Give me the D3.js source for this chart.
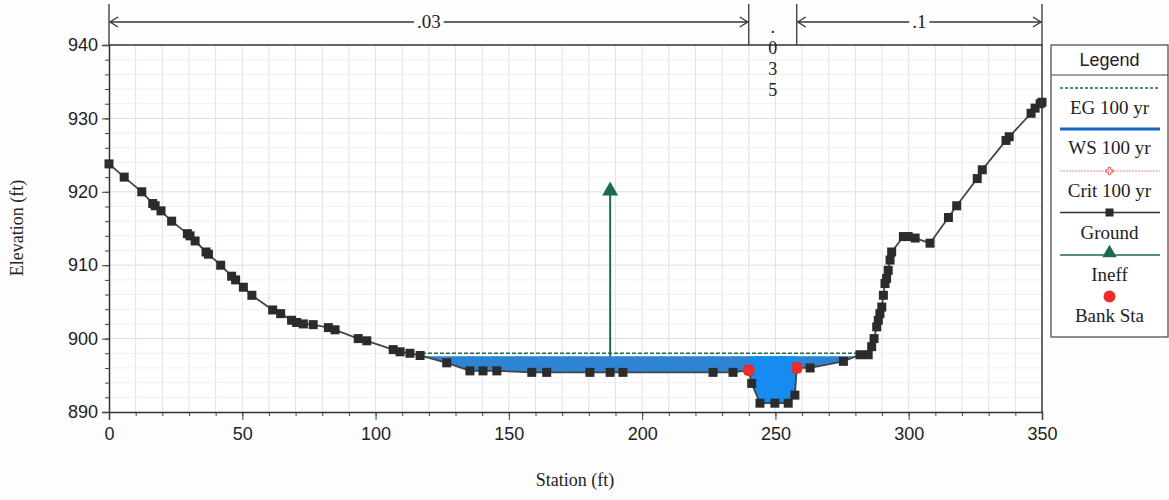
<!DOCTYPE html>
<html>
<head>
<meta charset="utf-8">
<script src="https://cdn.jsdelivr.net/npm/d3@7"></script>
<style>
  html, body { margin: 0; padding: 0; background: #fdfdfd; }
  svg { display: block; }
  .tick text { font-family: "Liberation Sans", Arial, sans-serif; font-size: 18px; fill: #222; }
</style>
</head>
<body>
<svg id="chart" width="1169" height="500"></svg>
<script>
// Cross-section ground survey: station (ft) and elevation (ft)
const groundStation = [0, 5.7, 12.3, 16.4, 17.3, 19.5, 23.5, 29.4, 30.4, 32.3, 36.4, 37.3, 41.9, 46.0, 47.5, 50.4,
  53.6, 61.4, 64.4, 68.5, 70.4, 72.9, 76.6, 82.3, 84.8, 93.5, 96.7, 106.6, 109.2, 112.9, 116.7, 126.7,
  135.4, 140.3, 145.5, 158.6, 164.2, 180.4, 188.0, 192.8, 226.6, 234.1, 240.0, 241.1, 244.2, 249.8, 254.8,
  257.3, 258.0, 263.0, 275.5, 281.7, 284.8, 286.1, 287.0, 288.0, 288.6, 289.2, 289.9, 290.5, 291.1, 291.7,
  292.3, 293.0, 293.6, 298.0, 299.8, 302.4, 308.0, 314.9, 318.0, 325.7, 327.6, 336.5, 337.7, 345.9, 347.4,
  349.3, 350];
const groundElev = [923.8, 922.0, 920.0, 918.4, 918.1, 917.4, 916.0, 914.3, 914.0, 913.3, 911.8, 911.5, 910.0, 908.5, 908.0, 907.0,
  905.9, 903.9, 903.4, 902.5, 902.2, 902.0, 901.9, 901.5, 901.2, 900.0, 899.7, 898.5, 898.2, 898.0, 897.7, 896.7,
  895.6, 895.6, 895.6, 895.4, 895.4, 895.4, 895.4, 895.4, 895.4, 895.4, 895.7, 893.9, 891.2, 891.2, 891.2,
  892.3, 896.0, 896.0, 896.9, 897.8, 897.8, 898.9, 900.0, 901.6, 902.5, 903.4, 904.3, 905.9, 907.5, 908.2,
  909.3, 910.7, 911.8, 913.9, 913.9, 913.7, 913.0, 916.5, 918.1, 921.8, 923.0, 927.0, 927.5, 930.7, 931.4,
  932.0, 932.2];

// Water profile results (100 yr)
const wsElev = 897.6;      // water surface
const egElev = 898.0;      // energy grade
// Bank stations
const bankStations = [240.0, 258.0];
const bankElevs = [895.7, 896.0];
// Ineffective flow area marker
const ineffStation = 188.0;
const ineffElev = 920.0;
// Manning's n regions
const nBreaks = [0, 240.0, 258.0, 350];
const nLabels = [".03", ".035", ".1"];

// Axis ticks
const xTicks = [0, 50, 100, 150, 200, 250, 300, 350];
const yTicks = [890, 900, 910, 920, 930, 940];

// Legend entries
const legendLabels = ["EG 100 yr", "WS 100 yr", "Crit 100 yr", "Ground", "Ineff", "Bank Sta"];

const svg = d3.select("#chart");
const x = d3.scaleLinear().domain([0, 350]).range([109, 1042]);
const y = d3.scaleLinear().domain([890, 940]).range([412, 45]);

const serif = "'Liberation Serif', 'Times New Roman', serif";
const sans = "'Liberation Sans', Arial, sans-serif";
const groundColor = "#2b2b2b";
const green = "#1c6a52";

// Plot background
svg.append("rect").attr("x", x(0)).attr("y", y(940)).attr("width", x(350) - x(0)).attr("height", y(890) - y(940)).attr("fill", "#fff");

// Grid
const grid = svg.append("g");
grid.selectAll(".gv").data(d3.range(10, 350, 10)).join("line")
  .attr("x1", d => x(d)).attr("x2", d => x(d)).attr("y1", y(940)).attr("y2", y(890))
  .attr("stroke", "#e2e2e2").attr("stroke-width", 1);
grid.selectAll(".gh").data(d3.range(892, 940, 2)).join("line")
  .attr("x1", x(0)).attr("x2", x(350)).attr("y1", d => y(d)).attr("y2", d => y(d))
  .attr("stroke", d => d % 10 === 0 ? "#dedede" : "#efefef").attr("stroke-width", 1);

// Ground profile as point list
const ground = groundStation.map((s, i) => [s, groundElev[i]]);
const groundAt = s => {
  for (let i = 1; i < ground.length; i++) {
    if (s <= ground[i][0]) {
      const [s0, e0] = ground[i - 1], [s1, e1] = ground[i];
      return e0 + (e1 - e0) * (s - s0) / (s1 - s0);
    }
  }
  return ground[ground.length - 1][1];
};

// Ineffective flow marker (drawn below the water)
svg.append("line")
  .attr("x1", x(ineffStation)).attr("x2", x(ineffStation))
  .attr("y1", y(groundAt(ineffStation))).attr("y2", y(ineffElev))
  .attr("stroke", green).attr("stroke-width", 2);
svg.append("path")
  .attr("d", d3.symbol(d3.symbolTriangle, 110)())
  .attr("transform", `translate(${x(ineffStation)},${y(ineffElev) - 1})`)
  .attr("fill", green);

// Wetted polygons below a level: split ground where it crosses the level
function wetPolygons(level) {
  const polys = [];
  let cur = null;
  for (let i = 0; i < ground.length; i++) {
    const [s, e] = ground[i];
    if (i > 0) {
      const [ps, pe] = ground[i - 1];
      if ((pe < level) !== (e < level)) {
        const t = (level - pe) / (e - pe);
        const cs = ps + t * (s - ps);
        if (cur) { cur.push([cs, level]); polys.push(cur); cur = null; }
        else { cur = [[cs, level]]; }
      }
    }
    if (e < level && cur) cur.push([s, e]);
  }
  return polys;
}
const wet = wetPolygons(wsElev);
const line = d3.line().x(d => x(d[0])).y(d => y(d[1]));

// Channel clip (between bank stations)
svg.append("clipPath").attr("id", "chanClip").append("rect")
  .attr("x", x(bankStations[0])).attr("y", 0)
  .attr("width", x(bankStations[1]) - x(bankStations[0])).attr("height", 500);

const water = svg.append("g");
wet.forEach(p => {
  water.append("path").attr("d", line(p) + "Z").attr("fill", "#2d84d2");
  water.append("path").attr("d", line(p) + "Z").attr("fill", "#168cf0").attr("clip-path", "url(#chanClip)");
});

// Energy grade line across the wetted width at EG level
const egPolys = wetPolygons(egElev);
const egL = egPolys[0][0][0];
const egR = egPolys[egPolys.length - 1][egPolys[egPolys.length - 1].length - 1][0];
svg.append("line")
  .attr("x1", x(egL)).attr("x2", x(egR)).attr("y1", y(egElev)).attr("y2", y(egElev))
  .attr("stroke", green).attr("stroke-width", 1.6).attr("stroke-dasharray", "4,2");

// Ground line and survey points
svg.append("path").datum(ground).attr("d", line)
  .attr("fill", "none").attr("stroke", "#444").attr("stroke-width", 1.8);
svg.append("g").selectAll("rect").data(ground).join("rect")
  .attr("x", d => x(d[0]) - 4.5).attr("y", d => y(d[1]) - 4.5)
  .attr("width", 9).attr("height", 9).attr("fill", groundColor);

// Bank stations
svg.append("g").selectAll("circle").data(bankStations).join("circle")
  .attr("cx", d => x(d)).attr("cy", (d, i) => y(bankElevs[i]))
  .attr("r", 6).attr("fill", "#ee2c2c");

// Frame (top and right edges)
svg.append("path")
  .attr("d", `M${x(0)},${y(940)}H${x(350)}V${y(890)}`)
  .attr("fill", "none").attr("stroke", "#333").attr("stroke-width", 1.5);

// Axes
svg.append("g").attr("transform", `translate(0,${y(890)})`)
  .call(d3.axisBottom(x).tickValues(xTicks).tickSize(8).tickPadding(7));
svg.append("g").attr("transform", `translate(0,${y(890)})`)
  .call(d3.axisBottom(x).tickValues(d3.range(0, 351, 10)).tickSize(4).tickFormat(""))
  .call(g => g.select(".domain").remove());
svg.append("g").attr("transform", `translate(${x(0)},0)`)
  .call(d3.axisLeft(y).tickValues(yTicks).tickSize(7).tickPadding(4));
svg.append("g").attr("transform", `translate(${x(0)},0)`)
  .call(d3.axisLeft(y).tickValues(d3.range(890, 941, 2)).tickSize(4).tickFormat(""))
  .call(g => g.select(".domain").remove());
svg.selectAll(".domain").attr("stroke", "#333").attr("stroke-width", 1.5);
svg.selectAll(".tick line").attr("stroke", "#444");

// Axis titles
svg.append("text").attr("x", 575).attr("y", 486).attr("text-anchor", "middle")
  .attr("font-family", serif).attr("font-size", 18).attr("fill", "#222").text("Station (ft)");
svg.append("text").attr("transform", "translate(23,228) rotate(-90)").attr("text-anchor", "middle")
  .attr("font-family", serif).attr("font-size", 18).attr("fill", "#222").text("Elevation (ft)");

// Manning's n regions along the top
const nG = svg.append("g").attr("stroke", "#333").attr("stroke-width", 1.3);
nBreaks.forEach(b => {
  nG.append("line").attr("x1", x(b)).attr("x2", x(b)).attr("y1", 4).attr("y2", y(940));
});
nLabels.forEach((lab, i) => {
  const a = x(nBreaks[i]), b = x(nBreaks[i + 1]);
  const mid = (a + b) / 2;
  if (b - a > 80) {
    const ay = 22;
    nG.append("line").attr("x1", a + 1).attr("x2", b - 1).attr("y1", ay).attr("y2", ay);
    nG.append("path").attr("d", `M${a + 9},${ay - 5}L${a + 1},${ay}L${a + 9},${ay + 5}`).attr("fill", "none");
    nG.append("path").attr("d", `M${b - 9},${ay - 5}L${b - 1},${ay}L${b - 9},${ay + 5}`).attr("fill", "none");
    const t = svg.append("text").attr("x", mid).attr("y", ay + 6).attr("text-anchor", "middle")
      .attr("font-family", serif).attr("font-size", 19).attr("fill", "#222").text(lab);
    const bb = t.node().getBBox();
    svg.insert("rect", () => t.node()).attr("x", bb.x - 3).attr("y", ay - 3).attr("width", bb.width + 6).attr("height", 6).attr("fill", "#fdfdfd");
  } else {
    // narrow region: characters stacked vertically
    lab.split("").forEach((ch, j) => {
      svg.append("text").attr("x", mid).attr("y", j === 0 ? 33 : 54 + (j - 1) * 21).attr("text-anchor", "middle")
        .attr("font-family", serif).attr("font-size", 18).attr("fill", "#222").text(ch);
    });
  }
});

// Legend
const lg = svg.append("g");
const lx0 = 1051, lx1 = 1168, lcx = (lx0 + lx1) / 2;
lg.append("rect").attr("x", lx0).attr("y", 45).attr("width", lx1 - lx0).attr("height", 292)
  .attr("fill", "#fff").attr("stroke", "#444").attr("stroke-width", 1.2);
lg.append("line").attr("x1", lx0).attr("x2", lx1).attr("y1", 75).attr("y2", 75).attr("stroke", "#444").attr("stroke-width", 1.2);
lg.append("text").attr("x", lcx).attr("y", 66).attr("text-anchor", "middle")
  .attr("font-family", sans).attr("font-size", 18).attr("fill", "#222").text("Legend");
const symY = [88, 129, 171, 212.5, 255, 296.5];
const lblY = [114, 154, 197, 239, 281, 322];
legendLabels.forEach((lab, i) => {
  lg.append("text").attr("x", lcx).attr("y", lblY[i]).attr("text-anchor", "middle")
    .attr("font-family", serif).attr("font-size", 19).attr("fill", "#222").text(lab);
});
const lsx0 = 1060, lsx1 = 1160;
lg.append("line").attr("x1", lsx0).attr("x2", lsx1).attr("y1", symY[0]).attr("y2", symY[0])
  .attr("stroke", green).attr("stroke-width", 1.4).attr("stroke-dasharray", "3,2");
lg.append("line").attr("x1", lsx0).attr("x2", lsx1).attr("y1", symY[1]).attr("y2", symY[1])
  .attr("stroke", "#1565c8").attr("stroke-width", 3);
lg.append("line").attr("x1", lsx0).attr("x2", lsx1).attr("y1", symY[2]).attr("y2", symY[2])
  .attr("stroke", "#e88").attr("stroke-width", 1).attr("stroke-dasharray", "2,1");
lg.append("path").attr("d", d3.symbol(d3.symbolCross, 30)()).attr("transform", `translate(${lcx},${symY[2]})`)
  .attr("fill", "none").attr("stroke", "#e33").attr("stroke-width", 0.8);
lg.append("line").attr("x1", lsx0).attr("x2", lsx1).attr("y1", symY[3]).attr("y2", symY[3])
  .attr("stroke", "#333").attr("stroke-width", 1.5);
lg.append("rect").attr("x", lcx - 4).attr("y", symY[3] - 4).attr("width", 8).attr("height", 8).attr("fill", groundColor);
lg.append("line").attr("x1", lsx0).attr("x2", lsx1).attr("y1", symY[4]).attr("y2", symY[4])
  .attr("stroke", green).attr("stroke-width", 1.5);
lg.append("path").attr("d", d3.symbol(d3.symbolTriangle, 90)()).attr("transform", `translate(${lcx},${symY[4] - 2})`)
  .attr("fill", green);
lg.append("circle").attr("cx", lcx).attr("cy", symY[5]).attr("r", 6).attr("fill", "#ee2c2c");
</script>
</body>
</html>
